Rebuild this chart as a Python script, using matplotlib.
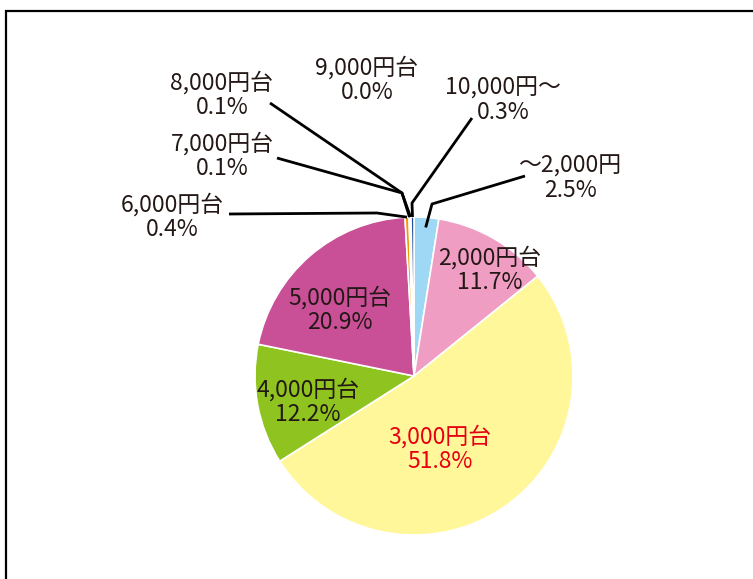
import matplotlib
matplotlib.use("Agg")
import matplotlib.pyplot as plt
from matplotlib.patches import Rectangle
import numpy as np

plt.rcParams['font.family'] = ['Noto Sans CJK JP', 'DejaVu Sans']

# データ（時計回り、上から）
kategorie = ['～2,000円', '2,000円台', '3,000円台', '4,000円台', '5,000円台',
             '6,000円台', '7,000円台', '8,000円台', '9,000円台', '10,000円～']
wartosci = [2.5, 11.7, 51.8, 12.2, 20.9, 0.4, 0.1, 0.1, 0.0, 0.3]
kolory = ['#9ed8f5', '#f09dc3', '#fff799', '#8fc31f', '#c94f97',
          '#f39800', '#7d6bb0', '#00a0a0', '#888888', '#1c4fa0']

W, H = 753, 579
cx, cy, r = 414, H - 376, 159
rozmiar = 16.5

fig = plt.figure(figsize=(W / 100, H / 100), dpi=100)
ax = fig.add_axes([0, 0, 1, 1])

# ramka
ax.add_patch(Rectangle((6, -20), W + 20, H - 11 + 20, fill=False,
                       edgecolor='black', linewidth=1.6, clip_on=False))

klinki, _ = ax.pie(wartosci, colors=kolory, startangle=90, counterclock=False,
                   center=(cx, cy), radius=r, frame=True,
                   wedgeprops=dict(edgecolor='white', linewidth=1.2))
ax.set_xlim(0, W)
ax.set_ylim(0, H)
ax.set_aspect('equal')
ax.axis('off')

# etykiety wewnątrz (x, y_px)
wewn = {1: (490, 270), 2: (440, 449), 3: (308, 402), 4: (340, 310)}
for i, (x, y) in wewn.items():
    kol = '#e60012' if i == 2 else '#231815'
    ax.text(x, H - y, f"{kategorie[i]}\n{wartosci[i]:.1f}%", ha='center', va='center',
            fontsize=rozmiar, color=kol, linespacing=1.08)

# etykiety zewnętrzne: pozycja tekstu, punkty linii (px)
zewn = {
    0: ((570, 178), [(525, 176), (432, 204)]),
    5: ((172, 217), [(229, 214), (377, 213)]),
    6: ((222, 156), [(277, 158), (402, 193)]),
    7: ((222, 95), [(270, 103), (402, 193)]),
    8: ((367, 80), None),
    9: ((503, 100), [(472, 118), (412, 203)]),
}
suma = np.cumsum([0] + wartosci) / sum(wartosci)
for i, ((x, y), linia) in zewn.items():
    ax.text(x, H - y, f"{kategorie[i]}\n{wartosci[i]:.1f}%", ha='center', va='center',
            fontsize=rozmiar, color='#231815', linespacing=1.08)
    if linia is None:
        continue
    kat = np.deg2rad(90 - 360 * (suma[i] + suma[i + 1]) / 2)
    rr = r - 10 if i == 0 else r
    ex, ey = cx + rr * np.cos(kat), cy + rr * np.sin(kat)
    xs = [p[0] for p in linia] + [ex]
    ys = [H - p[1] for p in linia] + [ey]
    ax.plot(xs, ys, color='black', linewidth=2, solid_capstyle='butt')

fig.savefig('out.png', dpi=100)
